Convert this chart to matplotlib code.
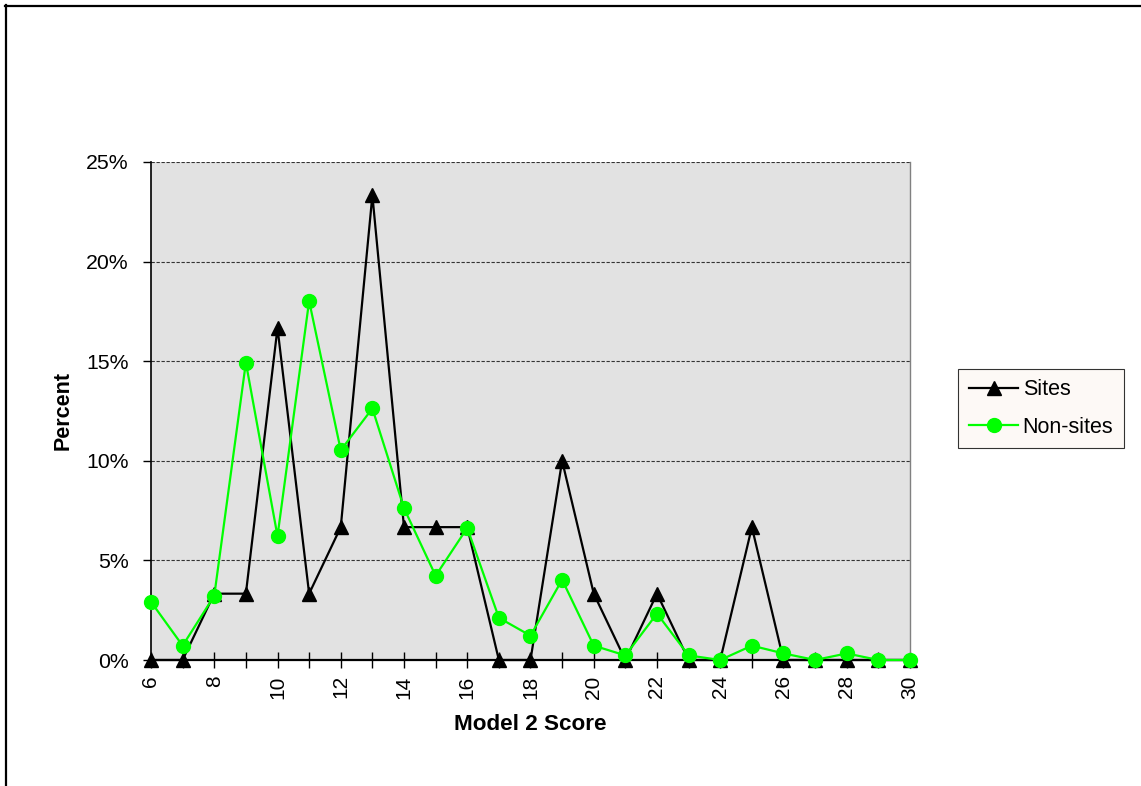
import matplotlib
matplotlib.use("Agg")
import matplotlib.pyplot as plt
from matplotlib.lines import Line2D
from matplotlib.ticker import FuncFormatter, MultipleLocator

plt.rcParams['font.family'] = ['Liberation Sans', 'DejaVu Sans']

scores = list(range(6, 31))
sites = [0, 0, 3.33, 3.33, 16.67, 3.33, 6.67, 23.33, 6.67, 6.67, 6.67, 0, 0,
         10.0, 3.33, 0, 3.33, 0, 0, 6.67, 0, 0, 0, 0, 0]
non_sites = [2.92, 0.72, 3.22, 14.93, 6.22, 18.02, 10.53, 12.63, 7.62, 4.23, 6.63,
             2.12, 1.22, 4.03, 0.72, 0.23, 2.33, 0.23, 0, 0.72, 0.33, 0, 0.33, 0, 0]
y_ticks = [0, 5, 10, 15, 20, 25]

W, H = 1141, 786
fig = plt.figure(figsize=(W / 100, H / 100), dpi=100)
fig.patch.set_facecolor('white')

ax = fig.add_axes([151 / W, 1 - 660 / H, (910 - 151) / W, (660 - 162) / H])
ax.set_facecolor('#e2e2e2')

ax.plot(scores, sites, color='black', lw=1.6, marker='^', ms=10,
        markerfacecolor='black', markeredgecolor='black', label='Sites',
        clip_on=False, zorder=4)
ax.plot(scores, non_sites, color='#00ff00', lw=1.6, marker='o', ms=10,
        markerfacecolor='#00ff00', markeredgecolor='#00ff00', label='Non-sites',
        clip_on=False, zorder=5)

ax.set_xlim(6, 30)
ax.set_ylim(0, 25)
ax.set_yticks(y_ticks)
ax.yaxis.set_major_formatter(FuncFormatter(lambda v, p: f"{v:.0f}%"))
ax.xaxis.set_major_locator(MultipleLocator(1))
ax.xaxis.set_major_formatter(FuncFormatter(lambda v, p: f"{int(round(v))}" if int(round(v)) % 2 == 0 else ""))

ax.grid(axis='y', color='#333333', linestyle=(0, (3, 1.5)), linewidth=0.8)
ax.set_axisbelow(True)

ax.spines['top'].set_visible(False)
ax.spines['right'].set_color('#808080')
ax.spines['right'].set_linewidth(1.0)
ax.spines['left'].set_color('black')
ax.spines['left'].set_linewidth(1.2)
ax.spines['bottom'].set_color('black')
ax.spines['bottom'].set_linewidth(1.6)

ax.tick_params(axis='x', direction='inout', length=12, width=1, pad=5,
               labelsize=15, labelrotation=90, colors='black')
ax.tick_params(axis='y', direction='out', length=6, width=1, pad=10,
               labelsize=15.3, colors='black')

ax.set_xlabel('Model 2 Score', fontsize=16.2, fontweight='bold', labelpad=11)
ax.set_ylabel('Percent', fontsize=15.5, fontweight='bold', labelpad=9)

leg = ax.legend(loc='center left', bbox_to_anchor=(958 / W, 1 - 408.5 / H),
                bbox_transform=fig.transFigure, frameon=True, fancybox=False,
                fontsize=15.5, handlelength=2.3, borderpad=0.5, labelspacing=0.75,
                handletextpad=0.2, borderaxespad=0)
leg.get_frame().set_edgecolor('black')
leg.get_frame().set_linewidth(0.8)
leg.get_frame().set_facecolor('#fdf8f4')

# outer chart border (left and top edges)
fig.add_artist(Line2D([5.5 / W, 5.5 / W], [0, 1 - 5 / H], transform=fig.transFigure,
                      color='black', lw=1.6))
fig.add_artist(Line2D([5 / W, 1], [1 - 5.5 / H, 1 - 5.5 / H], transform=fig.transFigure,
                      color='black', lw=1.6))

fig.savefig('out.png', dpi=100, facecolor='white')
